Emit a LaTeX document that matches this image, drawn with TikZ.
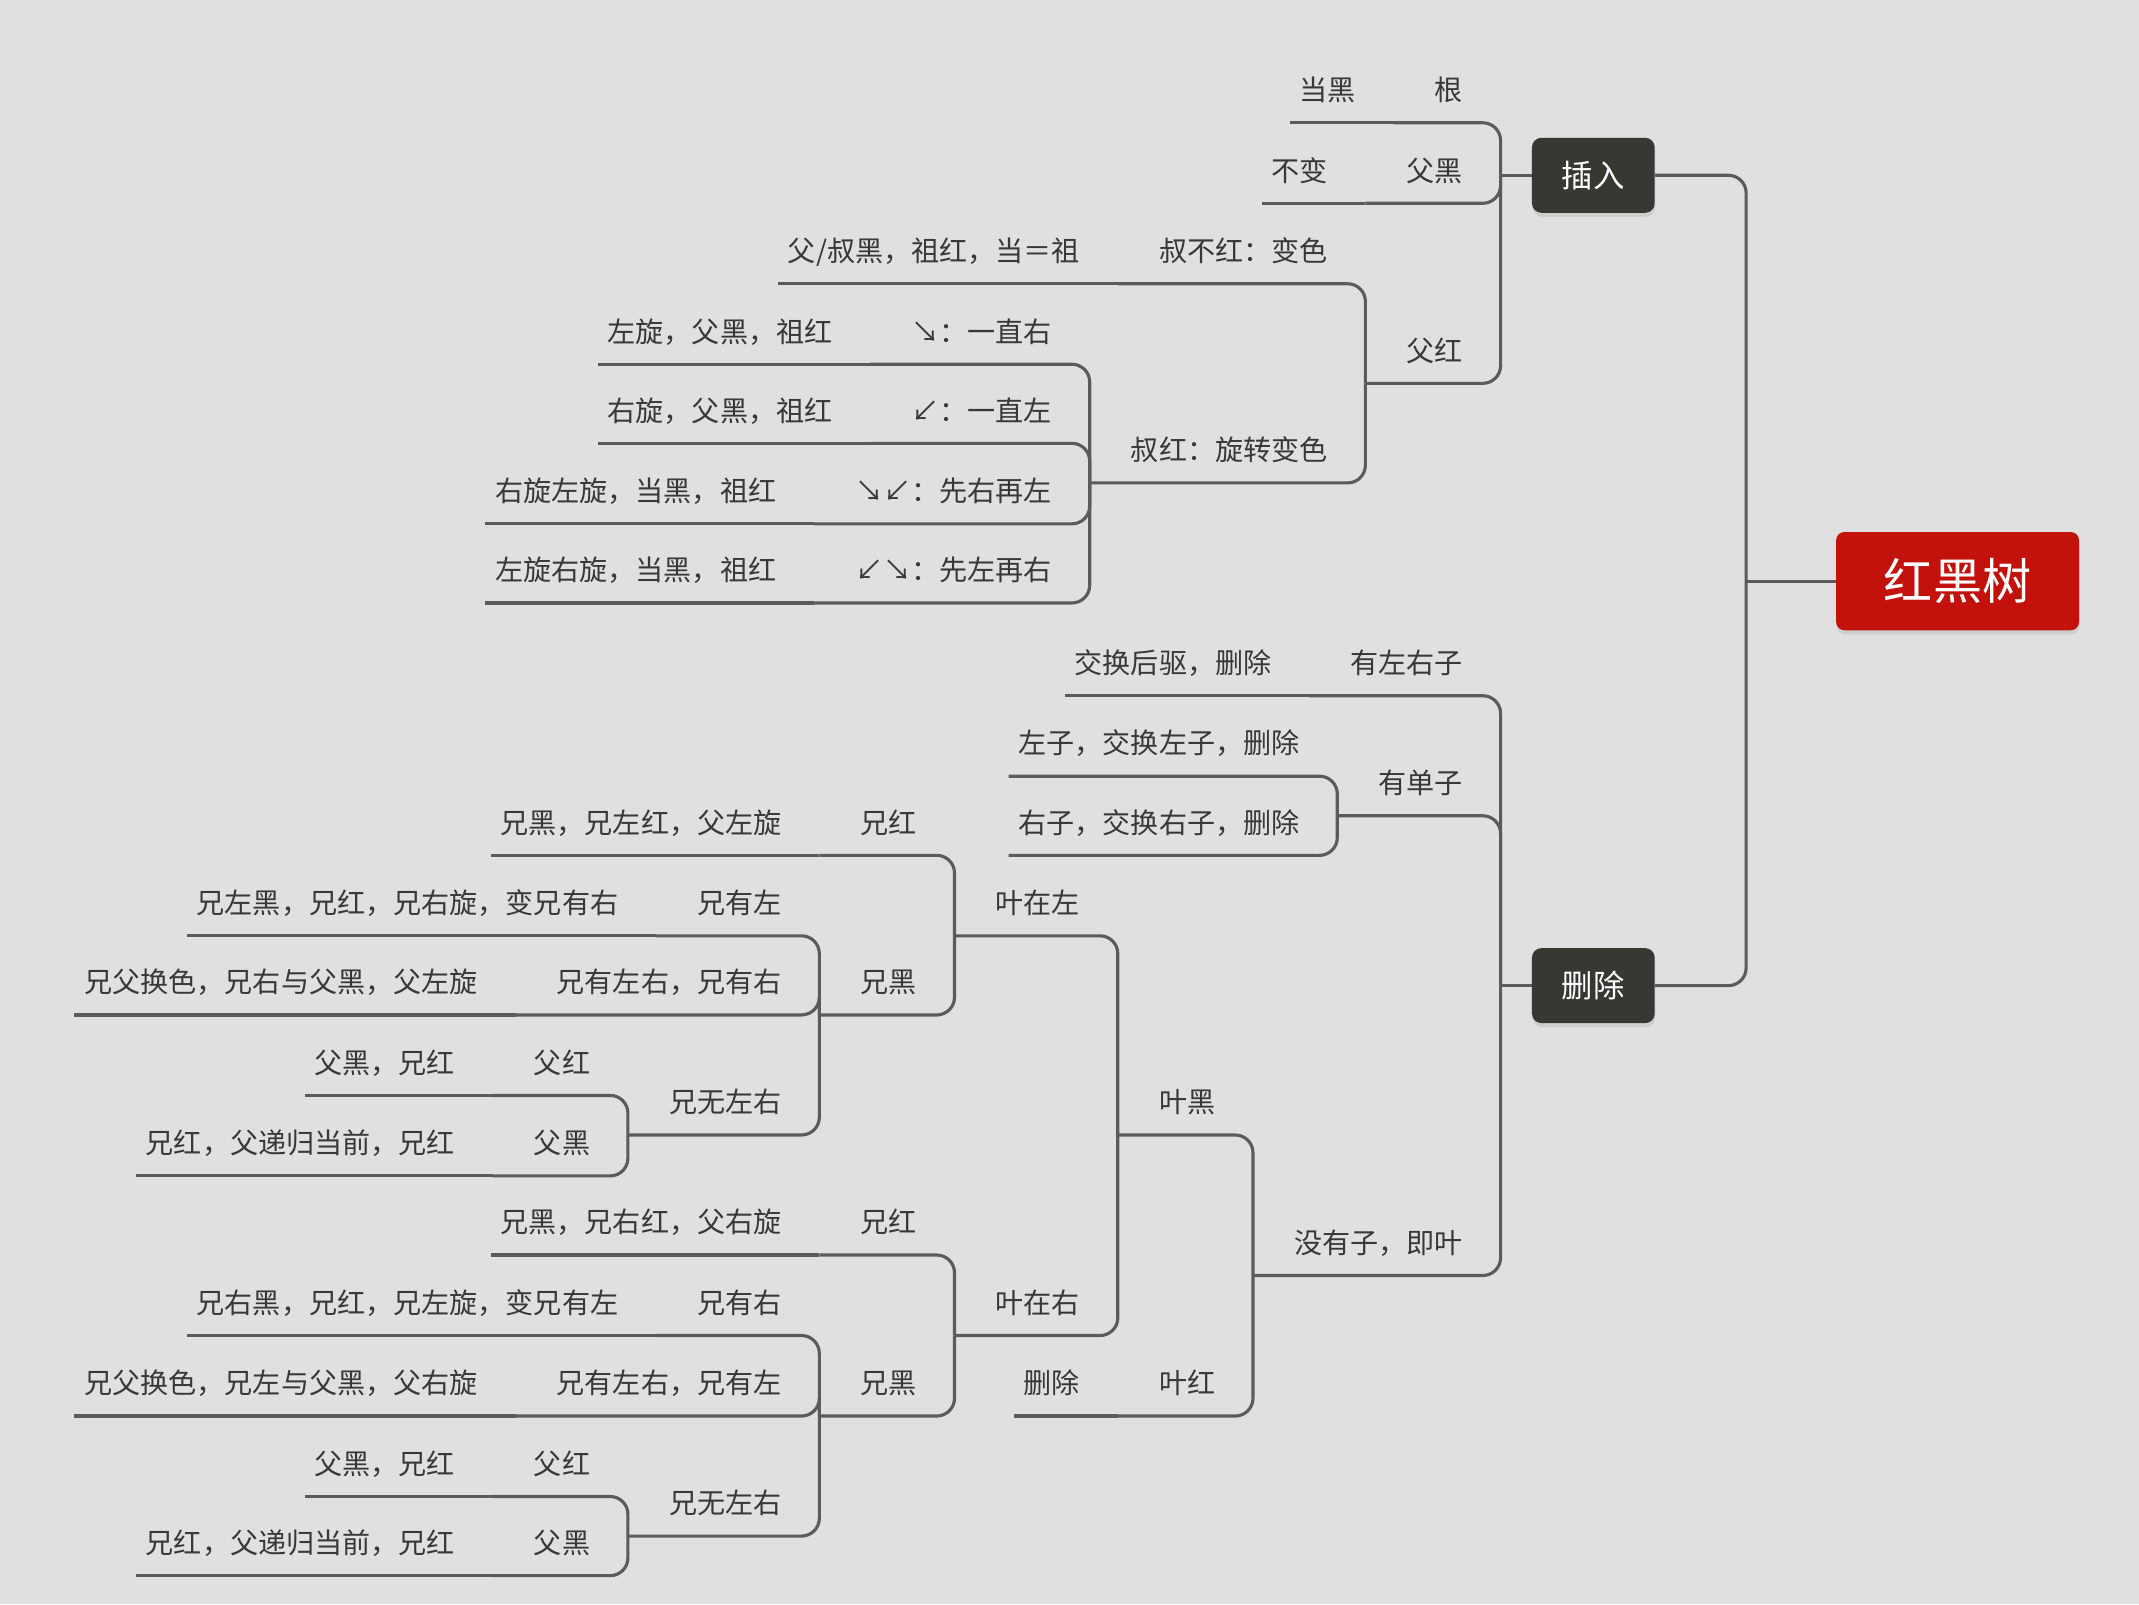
\documentclass[tikz,border=0pt]{standalone}
\usepackage{fontspec}
\newfontfamily\cjk{Noto Sans CJK SC}
\usetikzlibrary{shadows,calc}
\definecolor{bgc}{HTML}{E0E0E0}
\definecolor{linec}{HTML}{5B5B5B}
\definecolor{txtc}{HTML}{383838}
\definecolor{redc}{HTML}{C3110B}
\definecolor{darkc}{HTML}{383833}
\tikzset{
  txt/.style={font=\cjk\fontsize{20.6}{25}\selectfont, text=txtc, inner sep=0pt, anchor=base east},
  conn/.style={draw=linec, line width=2.3pt, rounded corners=13pt},
  mainbox/.style={fill=darkc, rounded corners=7pt, minimum width=90pt, minimum height=55pt, inner sep=0pt,
    text=white, font=\cjk\fontsize{23}{27}\selectfont,
    drop shadow={shadow xshift=0.5pt, shadow yshift=-3pt, opacity=0.18}},
  rootbox/.style={fill=redc, rounded corners=6pt, minimum width=178pt, minimum height=72pt, inner sep=0pt,
    text=white, font=\cjk\fontsize{36}{40}\selectfont,
    drop shadow={shadow xshift=0.5pt, shadow yshift=-3pt, opacity=0.18}}
}
% topic on a new row: #1 name, #2 parent, #3 underline y (from top), #4 left pad, #5 text
\newcommand\mmt[5]{%
  \coordinate (#1-r) at ([xshift=-27.5pt]#2-l);
  \node[txt] (#1) at (#1-r |- 0,{16.3-#3}) {#5};
  \coordinate (#1-l) at ([xshift=-#4pt,yshift=-16.3pt]#1.base west);
  \draw[conn] (#2-l) |- (#1-l);
}
% topic on the same row as its parent: #1 name, #2 parent, #3 left pad, #4 text
\newcommand\mms[4]{%
  \node[txt] (#1) at ([xshift=-27.5pt,yshift=16.3pt]#2-l) {#4};
  \coordinate (#1-l) at ([xshift=-#3pt,yshift=-16.3pt]#1.base west);
  \draw[conn] (#2-l) -- (#1-l);
}
\begin{document}
\begin{tikzpicture}[x=1pt,y=1pt]
\fill[bgc] (0,0) rectangle (1568,-1176);
\useasboundingbox (0,0) rectangle (1568,-1176);

\node[rootbox] (root) at (1435,-426) {红黑树};
\node[mainbox] (ins) at (1168,-128.5) {插入};
\node[mainbox] (del) at (1168,-722.5) {删除};
\coordinate (root-l) at (1280,-426);
\draw[conn] (root.west) -- (root-l);
\draw[conn] (root-l) |- (ins.east);
\draw[conn] (root-l) |- (del.east);
\coordinate (ins-l) at (1100,-128.5);
\coordinate (del-l) at (1100,-722.5);
\draw[conn] (ins.west) -- (ins-l);
\draw[conn] (del.west) -- (del-l);

% insert branch
\mmt{gen}{ins}{90}{30}{根}
\mms{dh}{gen}{7}{当黑}
\mmt{fh}{ins}{149}{30}{父黑}
\mms{bb}{fh}{7}{不变}
\mmt{fr}{ins}{281}{30}{父红}
\mmt{sbh}{fr}{208}{30}{叔不红：变色}
\mms{sbhc}{sbh}{7}{父/叔黑，祖红，当＝祖}
\mmt{shh}{fr}{354}{30}{叔红：旋转变色}
\mmt{aa}{shh}{267}{30}{↘：一直右}
\mms{aac}{aa}{7}{左旋，父黑，祖红}
\mmt{ab}{shh}{325}{30}{↙：一直左}
\mms{abc}{ab}{7}{右旋，父黑，祖红}
\mmt{ac}{shh}{384}{30}{↘↙：先右再左}
\mms{acc}{ac}{7}{右旋左旋，当黑，祖红}
\mmt{ad}{shh}{442}{30}{↙↘：先左再右}
\mms{adc}{ad}{7}{左旋右旋，当黑，祖红}

% delete branch
\mmt{da}{del}{510}{30}{有左右子}
\mms{dac}{da}{7}{交换后驱，删除}
\mmt{db}{del}{598}{30}{有单子}
\mmt{dbl}{db}{569}{7}{左子，交换左子，删除}
\mmt{dbr}{db}{627}{7}{右子，交换右子，删除}
\mmt{dc}{del}{935}{30}{没有子，即叶}
\mmt{yh}{dc}{832}{30}{叶黑}
\mmt{yl}{yh}{686}{30}{叶在左}
\mmt{lxr}{yl}{627}{30}{兄红}
\mms{lxrc}{lxr}{7}{兄黑，兄左红，父左旋}
\mmt{lxh}{yl}{744}{30}{兄黑}
\mmt{lxa}{lxh}{686}{30}{兄有左}
\mms{lxac}{lxa}{7}{兄左黑，兄红，兄右旋，变兄有右}
\mmt{lxb}{lxh}{744}{30}{兄有左右，兄有右}
\mms{lxbc}{lxb}{7}{兄父换色，兄右与父黑，父左旋}
\mmt{lxc}{lxh}{832}{30}{兄无左右}
\mmt{lxcr}{lxc}{803}{30}{父红}
\mms{lxcrc}{lxcr}{7}{父黑，兄红}
\mmt{lxcb}{lxc}{862}{30}{父黑}
\mms{lxcbc}{lxcb}{7}{兄红，父递归当前，兄红}
\mmt{yr}{yh}{979}{30}{叶在右}
\mmt{rxr}{yr}{920}{30}{兄红}
\mms{rxrc}{rxr}{7}{兄黑，兄右红，父右旋}
\mmt{rxh}{yr}{1038}{30}{兄黑}
\mmt{rxa}{rxh}{979}{30}{兄有右}
\mms{rxac}{rxa}{7}{兄右黑，兄红，兄左旋，变兄有左}
\mmt{rxb}{rxh}{1038}{30}{兄有左右，兄有左}
\mms{rxbc}{rxb}{7}{兄父换色，兄左与父黑，父右旋}
\mmt{rxc}{rxh}{1126}{30}{兄无左右}
\mmt{rxcr}{rxc}{1097}{30}{父红}
\mms{rxcrc}{rxcr}{7}{父黑，兄红}
\mmt{rxcb}{rxc}{1155}{30}{父黑}
\mms{rxcbc}{rxcb}{7}{兄红，父递归当前，兄红}
\mmt{yred}{dc}{1038}{30}{叶红}
\mms{yredc}{yred}{7}{删除}
\end{tikzpicture}
\end{document}
